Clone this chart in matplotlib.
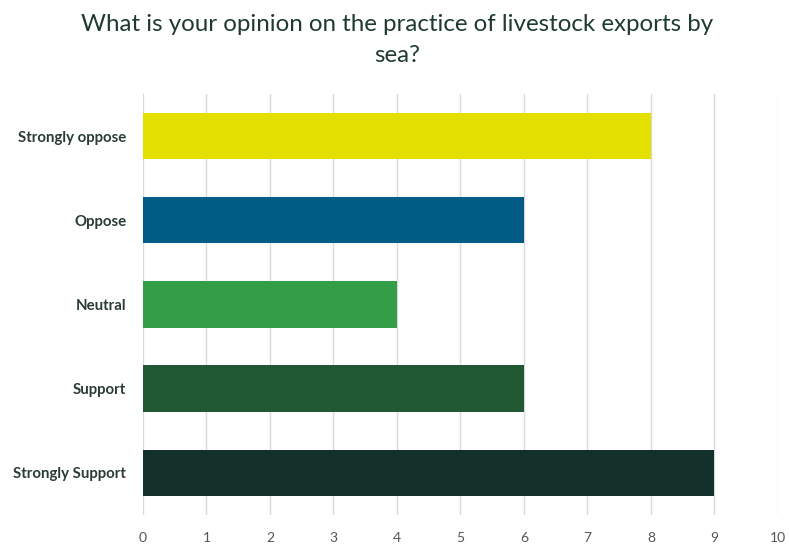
import matplotlib
matplotlib.use("Agg")
import matplotlib.pyplot as plt

# survey responses, listed top to bottom
categories = ["Strongly oppose", "Oppose", "Neutral", "Support", "Strongly Support"]
counts = [8, 6, 4, 6, 9]
bar_colors = ["#e3e000", "#005b85", "#339e45", "#215834", "#14302b"]
x_ticks = list(range(0, 11))

plt.rcParams["font.family"] = ["Lato", "DejaVu Sans"]

fig = plt.figure(figsize=(7.89, 5.46), dpi=100)
ax = fig.add_axes([0.1812, 0.057, 0.8048, 0.771])

ypos = list(range(len(categories)))
ax.barh(ypos, counts, height=0.55, color=bar_colors, zorder=3)
ax.set_ylim(len(categories) - 0.5, -0.5)
ax.set_xlim(0, 10)

ax.set_yticks(ypos)
ax.set_yticklabels(categories, fontsize=10.8, fontweight="bold", color="#2b3b35")
ax.set_xticks(x_ticks)
ax.set_xticklabels([str(t) for t in x_ticks], fontsize=10, color="#555555")
ax.tick_params(axis="both", length=0)
ax.tick_params(axis="x", pad=12)
ax.tick_params(axis="y", pad=12)

ax.grid(axis="x", color="#d9d9d9", linewidth=1, zorder=0)
for s in ax.spines.values():
    s.set_visible(False)

fig.text(0.503, 0.974, "What is your opinion on the practice of livestock exports by\nsea?",
         ha="center", va="top", fontsize=17.4, color="#1f3b2f", linespacing=1.6)

fig.savefig("out.png", dpi=100, facecolor="white")
